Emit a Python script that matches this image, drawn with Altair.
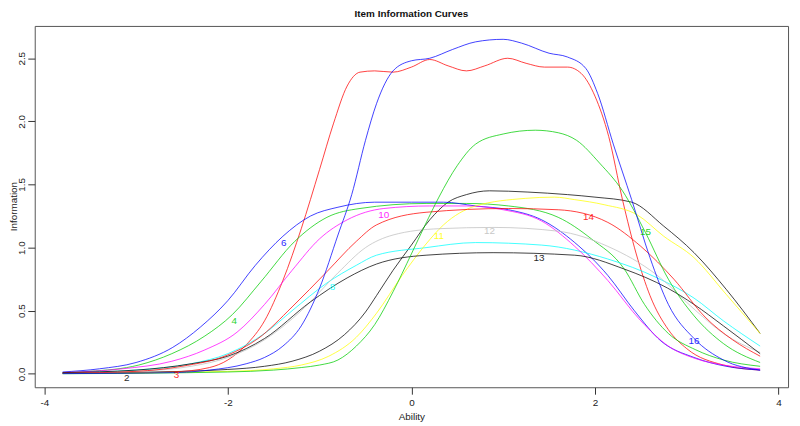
import altair as alt
import pandas as pd

# ---- data (ability, information) ----
red_tall_x = [-3.8,-3.0,-2.6,-2.2,-2.0,-1.8,-1.6,-1.4,-1.2,-1.0,-0.85,-0.7,-0.56,-0.4,-0.2,0.0,0.2,0.4,0.6,0.8,1.05,1.25,1.45,1.7,1.85,2.0,2.15,2.3,2.45,2.6,2.8,3.0,3.4,3.8]
red_tall_y = [0.003,0.008,0.015,0.05,0.11,0.23,0.42,0.74,1.15,1.62,1.98,2.28,2.39,2.40,2.39,2.43,2.49,2.44,2.40,2.44,2.50,2.46,2.43,2.43,2.38,2.20,1.88,1.38,0.95,0.62,0.35,0.20,0.07,0.03]

blue_tall_x = [-3.8,-2.6,-2.2,-1.8,-1.6,-1.4,-1.2,-1.0,-0.8,-0.65,-0.5,-0.38,-0.2,0.0,0.2,0.45,0.7,1.0,1.2,1.5,1.7,1.9,2.03,2.2,2.4,2.6,2.8,3.08,3.4,3.8]
blue_tall_y = [0.002,0.01,0.03,0.08,0.13,0.22,0.38,0.68,1.10,1.42,1.85,2.14,2.40,2.48,2.50,2.57,2.63,2.65,2.62,2.54,2.51,2.42,2.22,1.82,1.38,0.92,0.55,0.28,0.11,0.03]

green_tall_x = [-3.8,-2.0,-1.5,-1.2,-1.0,-0.8,-0.6,-0.4,-0.2,0.0,0.15,0.3,0.5,0.7,1.0,1.35,1.6,1.8,2.05,2.3,2.55,2.8,3.08,3.4,3.8]
green_tall_y = [0.001,0.015,0.03,0.05,0.07,0.11,0.22,0.39,0.65,0.95,1.18,1.40,1.65,1.82,1.90,1.93,1.91,1.85,1.67,1.45,1.12,0.75,0.46,0.24,0.09]

black_tall_x = [-3.8,-3.0,-2.0,-1.6,-1.3,-1.0,-0.73,-0.5,-0.38,-0.2,0.0,0.2,0.4,0.6,0.85,1.27,1.7,2.0,2.4,2.75,3.08,3.43,3.8]
black_tall_y = [0.005,0.012,0.035,0.06,0.10,0.18,0.31,0.49,0.62,0.82,1.02,1.22,1.36,1.42,1.45,1.44,1.42,1.40,1.36,1.17,0.96,0.67,0.32]

yellow_x = [-3.8,-2.0,-1.5,-1.2,-0.9,-0.6,-0.38,-0.1,0.15,0.35,0.7,1.24,1.56,1.78,2.1,2.46,2.75,3.08,3.43,3.8]
yellow_y = [0.003,0.02,0.04,0.07,0.14,0.29,0.48,0.78,1.02,1.18,1.33,1.39,1.40,1.38,1.34,1.26,1.09,0.92,0.63,0.32]

blue_med_x = [-3.8,-3.4,-3.0,-2.6,-2.3,-2.0,-1.7,-1.4,-1.1,-0.8,-0.4,0.0,0.35,0.7,1.06,1.42,1.78,2.14,2.43,2.72,3.08,3.43,3.8]
blue_med_y = [0.015,0.04,0.09,0.21,0.37,0.58,0.86,1.09,1.25,1.32,1.36,1.36,1.36,1.33,1.30,1.22,1.04,0.78,0.50,0.26,0.13,0.06,0.03]

green_med_x = [-3.8,-3.51,-2.97,-2.61,-2.25,-1.95,-1.64,-1.27,-0.92,-0.56,0.16,0.6,1.06,1.6,1.96,2.32,2.54,2.8,3.1,3.4,3.8]
green_med_y = [0.01,0.02,0.07,0.16,0.30,0.47,0.73,1.05,1.24,1.31,1.35,1.35,1.33,1.24,1.07,0.83,0.55,0.32,0.19,0.11,0.06]

magenta_x = [-3.8,-3.15,-2.61,-2.25,-1.9,-1.6,-1.3,-1.0,-0.7,-0.3,0.2,0.6,1.0,1.42,1.78,2.14,2.5,2.8,3.1,3.4,3.8]
magenta_y = [0.01,0.04,0.10,0.19,0.33,0.55,0.82,1.07,1.22,1.31,1.33,1.33,1.30,1.21,1.01,0.74,0.42,0.22,0.12,0.07,0.04]

red_med_x = [-3.8,-3.0,-2.5,-2.0,-1.67,-1.3,-0.92,-0.6,-0.38,0.16,1.06,1.6,2.14,2.5,2.86,3.2,3.5,3.8]
red_med_y = [0.005,0.02,0.06,0.15,0.28,0.53,0.81,1.05,1.18,1.28,1.31,1.30,1.20,1.01,0.75,0.45,0.27,0.14]

gray_x = [-3.8,-3.0,-2.4,-2.0,-1.6,-1.2,-0.8,-0.5,-0.2,0.3,0.9,1.6,2.14,2.68,3.1,3.4,3.8]
gray_y = [0.005,0.02,0.06,0.13,0.27,0.50,0.80,1.00,1.10,1.15,1.16,1.13,1.01,0.78,0.50,0.32,0.17]

cyan_x = [-3.8,-3.0,-2.4,-2.0,-1.6,-1.3,-0.92,-0.6,-0.38,0.16,0.7,1.42,2.14,2.68,3.08,3.4,3.8]
cyan_y = [0.01,0.03,0.08,0.16,0.32,0.50,0.72,0.86,0.94,1.00,1.04,1.02,0.91,0.76,0.60,0.42,0.22]

black_low_x = [-3.8,-3.0,-2.4,-2.0,-1.6,-1.1,-0.7,-0.38,0.16,0.89,1.78,2.32,2.79,3.08,3.4,3.8]
black_low_y = [0.01,0.03,0.08,0.14,0.28,0.57,0.76,0.87,0.94,0.96,0.94,0.83,0.68,0.55,0.38,0.16]

curve_ids = ["2", "3", "4", "6", "8", "10", "11", "12", "13", "14", "15", "16"]
curve_colors = ["#000000", "#FF0000", "#00CD00", "#0000FF", "#00FFFF", "#FF00FF",
                "#FFFF00", "#BEBEBE", "#000000", "#FF0000", "#00CD00", "#0000FF"]
curve_xs = [black_tall_x, red_tall_x, green_med_x, blue_med_x, cyan_x, magenta_x,
            yellow_x, gray_x, black_low_x, red_med_x, green_tall_x, blue_tall_x]
curve_ys = [black_tall_y, red_tall_y, green_med_y, blue_med_y, cyan_y, magenta_y,
            yellow_y, gray_y, black_low_y, red_med_y, green_tall_y, blue_tall_y]

label_x = [-3.10, -2.56, -1.93, -1.39, -0.86, -0.30, 0.30, 0.85, 1.39, 1.93, 2.55, 3.08]
label_y = [-0.03, -0.01, 0.42, 1.04, 0.69, 1.26, 1.09, 1.13, 0.92, 1.24, 1.12, 0.26]

x_ticks = [-4, -2, 0, 2, 4]
y_ticks = [0.0, 0.5, 1.0, 1.5, 2.0, 2.5]

rows = []
for cid, xs, ys in zip(curve_ids, curve_xs, curve_ys):
    for a, v in zip(xs, ys):
        rows.append({"item": cid, "ability": a, "info": v})
lines_df = pd.DataFrame(rows)
labels_df = pd.DataFrame({"item": curve_ids, "ability": label_x, "info": label_y})

color_scale = alt.Scale(domain=curve_ids, range=curve_colors)
x_scale = alt.Scale(domain=[-4.104, 4.104], nice=False, zero=False)
y_scale = alt.Scale(domain=[-0.106, 2.756], nice=False, zero=False)

x_axis = alt.Axis(values=x_ticks, domain=False, grid=False, tickSize=7, tickColor="#333333",
                  labelExpr="'' + datum.value", labelFontSize=10, labelColor="#222222",
                  labelPadding=3, title="Ability", titleFontSize=10, titleFontWeight="normal",
                  titleColor="#222222", titlePadding=5, labelFont="Liberation Sans",
                  titleFont="Liberation Sans")
y_axis = alt.Axis(values=y_ticks, format=".1f", domain=False, grid=False, tickSize=7,
                  tickColor="#333333", labelAngle=270, labelAlign="center",
                  labelBaseline="bottom", labelFontSize=10, labelColor="#222222",
                  labelPadding=1, title="Information", titleFontSize=10,
                  titleFontWeight="normal", titleColor="#222222",
                  titleX=-21, titleY=182, titleAngle=270, titleAlign="center",
                  titleBaseline="middle",
                  labelFont="Liberation Sans", titleFont="Liberation Sans")

lines = alt.Chart(lines_df).mark_line(interpolate="monotone", strokeWidth=1.0, opacity=0.75).encode(
    x=alt.X("ability:Q", scale=x_scale, axis=x_axis),
    y=alt.Y("info:Q", scale=y_scale, axis=y_axis),
    color=alt.Color("item:N", scale=color_scale, legend=None),
    detail="item:N",
)

labels = alt.Chart(labels_df).mark_text(fontSize=10, font="Liberation Sans", opacity=0.85).encode(
    x=alt.X("ability:Q", scale=x_scale),
    y=alt.Y("info:Q", scale=y_scale),
    text="item:N",
    color=alt.Color("item:N", scale=color_scale, legend=None),
)

chart = (lines + labels).properties(
    width=761,
    height=365,
    title=alt.TitleParams("Item Information Curves", fontSize=10,
                          font="Liberation Sans Narrow, Liberation Sans",
                          fontWeight="bold", anchor="middle", offset=7, color="#111111"),
    autosize=alt.AutoSizeParams(type="none"),
    padding={"left": 27, "top": 16, "right": 4, "bottom": 35},
).configure_view(stroke="#555555", strokeWidth=1)

chart.save("out.html", embed_options={"renderer": "svg", "actions": False})
